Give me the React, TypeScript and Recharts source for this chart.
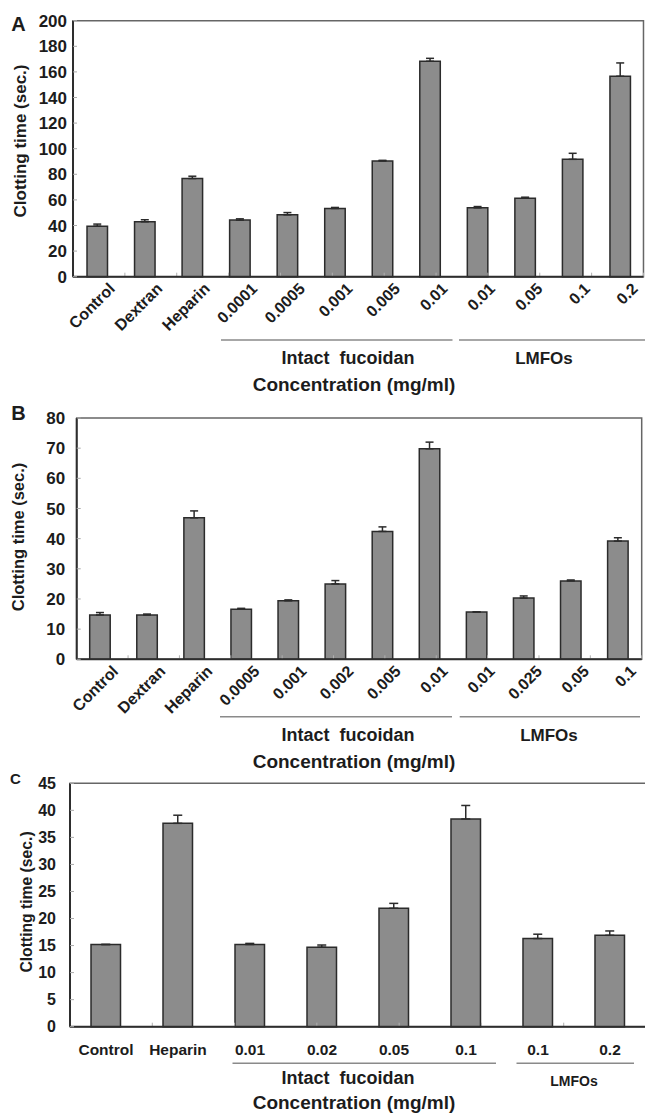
import React from "react";
import {
  BarChart,
  Bar,
  XAxis,
  YAxis,
  ErrorBar,
  ReferenceArea,
  ReferenceLine,
} from "recharts";

const FONT = '"Liberation Sans", Arial, Helvetica, sans-serif';
const INK = "#1c1c1c";

// panel A
const CATS_A = ["Control", "Dextran", "Heparin", "0.0001", "0.0005", "0.001", "0.005", "0.01", "0.01", "0.05", "0.1", "0.2"];
const TIME_A = [39.5, 42.9, 76.7, 44.2, 48.3, 53.3, 90.4, 168.3, 53.8, 61.3, 91.7, 156.6];
const SD_A = [1.6, 1.6, 1.8, 1.0, 1.8, 0.8, 0.5, 2.3, 1.0, 0.8, 4.7, 10.4];
const TICKS_A = [0, 20, 40, 60, 80, 100, 120, 140, 160, 180, 200];

// panel B
const CATS_B = ["Control", "Dextran", "Heparin", "0.0005", "0.001", "0.002", "0.005", "0.01", "0.01", "0.025", "0.05", "0.1"];
const TIME_B = [14.7, 14.7, 46.9, 16.6, 19.4, 25.0, 42.4, 69.8, 15.7, 20.3, 26.0, 39.2];
const SD_B = [0.8, 0.3, 2.3, 0.3, 0.3, 1.1, 1.5, 2.2, 0, 0.7, 0.3, 1.1];
const TICKS_B = [0, 10, 20, 30, 40, 50, 60, 70, 80];

// panel C
const CATS_C = ["Control", "Heparin", "0.01", "0.02", "0.05", "0.1", "0.1", "0.2"];
const TIME_C = [15.2, 37.6, 15.2, 14.7, 21.9, 38.4, 16.3, 16.9];
const SD_C = [0, 1.5, 0.2, 0.4, 0.9, 2.5, 0.8, 0.8];
const TICKS_C = [0, 5, 10, 15, 20, 25, 30, 35, 40, 45];

type PanelCfg = {
  cats: string[];
  values: number[];
  sds: number[];
  ticks: number[];
  top: number; // page y of the chart box
  plotTop: number;
  plotBottom: number;
  plotLeft: number;
  plotRight: number;
  width: number;
  barSize: number;
  capWidth: number;
  tickFont: number;
  tickMargin: number;
  slanted: boolean;
};

function SlantTick(props: any) {
  const { x, y, payload } = props;
  const ax = x + 19;
  const ay = y + 13;
  return (
    <text
      x={ax}
      y={ay}
      transform={`rotate(-45, ${ax}, ${ay})`}
      textAnchor="end"
      fontSize={16}
      fontWeight="bold"
      fontFamily={FONT}
      fill={INK}
    >
      {payload.value}
    </text>
  );
}

function FlatTick(props: any) {
  const { x, y, payload } = props;
  return (
    <text
      x={x}
      y={y + 23}
      textAnchor="middle"
      dominantBaseline="central"
      fontSize={15.5}
      fontWeight="bold"
      fontFamily={FONT}
      fill={INK}
    >
      {payload.value}
    </text>
  );
}

function Panel(cfg: PanelCfg) {
  const rows = cfg.cats.map((c, i) => ({ name: c, time: cfg.values[i], sd: cfg.sds[i] }));
  const yMax = cfg.ticks[cfg.ticks.length - 1];
  const xAxisH = 60;
  const height = cfg.plotBottom - cfg.top + xAxisH + 2;
  // little boundary ticks on the x axis, ~4px tall
  const edgeLen = (yMax * 4) / (cfg.plotBottom - cfg.plotTop);
  const edges = cfg.cats.slice(1).map((_, i) => i + 1);

  return (
    <div style={{ position: "absolute", left: 0, top: cfg.top }}>
      <BarChart
        width={cfg.width}
        height={height}
        data={rows}
        barSize={cfg.barSize}
        margin={{
          top: cfg.plotTop - cfg.top,
          right: cfg.width - cfg.plotRight,
          bottom: 2,
          left: 0,
        }}
      >
        <ReferenceArea
          y1={0}
          y2={yMax}
          fill="none"
          fillOpacity={0}
          stroke="#666666"
          strokeWidth={1.5}
          ifOverflow="visible"
        />
        <XAxis
          dataKey="name"
          interval={0}
          height={xAxisH}
          tickSize={0}
          tickMargin={0}
          tickLine={false}
          axisLine={{ stroke: "#2e2e2e", strokeWidth: 2 }}
          tick={cfg.slanted ? <SlantTick /> : <FlatTick />}
        />
        <XAxis xAxisId="edge" type="number" domain={[0, cfg.cats.length]} hide />
        <YAxis
          domain={[0, yMax]}
          ticks={cfg.ticks}
          interval={0}
          width={cfg.plotLeft}
          tickSize={-4}
          tickMargin={cfg.tickMargin}
          tickLine={{ stroke: "#aaaaaa" }}
          axisLine={{ stroke: "#2e2e2e", strokeWidth: 2 }}
          tick={{ fill: INK, fontSize: cfg.tickFont, fontWeight: "bold", fontFamily: FONT }}
        />
        {edges.map((e) => (
          <ReferenceLine
            key={e}
            xAxisId="edge"
            segment={[
              { x: e, y: 0 },
              { x: e, y: edgeLen },
            ]}
            stroke="#b0b0b0"
            strokeWidth={1}
          />
        ))}
        <Bar
          dataKey="time"
          fill="#8c8c8c"
          stroke="#2b2b2b"
          strokeWidth={1.5}
          isAnimationActive={false}
        >
          <ErrorBar
            dataKey={(d: any) => [0, d.sd]}
            direction="y"
            width={cfg.capWidth}
            stroke="#2b2b2b"
            strokeWidth={1.5}
          />
        </Bar>
      </BarChart>
    </div>
  );
}

const LINE = "#8a8a8a";

function Notes() {
  const t = (x: number, y: number, s: string, size: number, rot = 0, extra: any = {}) => (
    <text
      x={x}
      y={y}
      textAnchor="middle"
      dominantBaseline="central"
      fontSize={size}
      fontWeight="bold"
      fontFamily={FONT}
      fill={INK}
      transform={rot ? `rotate(${rot}, ${x}, ${y})` : undefined}
      {...extra}
    >
      {s}
    </text>
  );
  const l = (x1: number, x2: number, y: number) => (
    <line x1={x1} x2={x2} y1={y} y2={y} stroke={LINE} strokeWidth={1.6} />
  );
  return (
    <svg
      width={645}
      height={1114}
      style={{ position: "absolute", left: 0, top: 0, pointerEvents: "none" }}
    >
      {/* panel A */}
      {t(18.5, 24, "A", 20)}
      {t(20.6, 141, "Clotting time (sec.)", 17, -90)}
      {l(221, 452.5, 340)}
      {l(459, 645, 340)}
      {t(348, 358, "Intact fucoidan", 18, 0, { wordSpacing: 5 })}
      {t(544, 358, "LMFOs", 17)}
      {t(354, 384, "Concentration (mg/ml)", 19)}
      {/* panel B */}
      {t(18.5, 413, "B", 20)}
      {t(17.5, 537, "Clotting time (sec.)", 16.5, -90)}
      {l(220, 452, 716.7)}
      {l(459.7, 640, 716.7)}
      {t(348, 735, "Intact fucoidan", 18, 0, { wordSpacing: 5 })}
      {t(549, 735, "LMFOs", 17)}
      {t(354, 761, "Concentration (mg/ml)", 19)}
      {/* panel C */}
      {t(15.5, 778, "C", 15)}
      {t(26.7, 902, "Clotting time (sec.)", 15.7, -90)}
      {l(232.5, 496, 1063.3)}
      {l(516.5, 634, 1063.3)}
      {t(348, 1078, "Intact fucoidan", 18, 0, { wordSpacing: 5 })}
      {t(574, 1081, "LMFOs", 14)}
      {t(354, 1102, "Concentration (mg/ml)", 19)}
    </svg>
  );
}

export default function App() {
  return (
    <div
      style={{
        position: "absolute",
        left: 0,
        top: 0,
        width: 645,
        height: 1114,
        overflow: "hidden",
        background: "#fff",
        fontFamily: FONT,
      }}
    >
      <Panel
        cats={CATS_A}
        values={TIME_A}
        sds={SD_A}
        ticks={TICKS_A}
        top={0}
        plotTop={20.7}
        plotBottom={276.7}
        plotLeft={73}
        plotRight={643.5}
        width={645}
        barSize={20.5}
        capWidth={4}
        tickFont={17}
        tickMargin={10}
        slanted
      />
      <Panel
        cats={CATS_B}
        values={TIME_B}
        sds={SD_B}
        ticks={TICKS_B}
        top={395}
        plotTop={418}
        plotBottom={659.3}
        plotLeft={76.7}
        plotRight={641.7}
        width={645}
        barSize={20.5}
        capWidth={4}
        tickFont={17}
        tickMargin={15.5}
        slanted
      />
      <Panel
        cats={CATS_C}
        values={TIME_C}
        sds={SD_C}
        ticks={TICKS_C}
        top={770}
        plotTop={783.3}
        plotBottom={1026.7}
        plotLeft={70}
        plotRight={646}
        width={650}
        barSize={29.5}
        capWidth={4.5}
        tickFont={16}
        tickMargin={18}
        slanted={false}
      />
      <Notes />
    </div>
  );
}
